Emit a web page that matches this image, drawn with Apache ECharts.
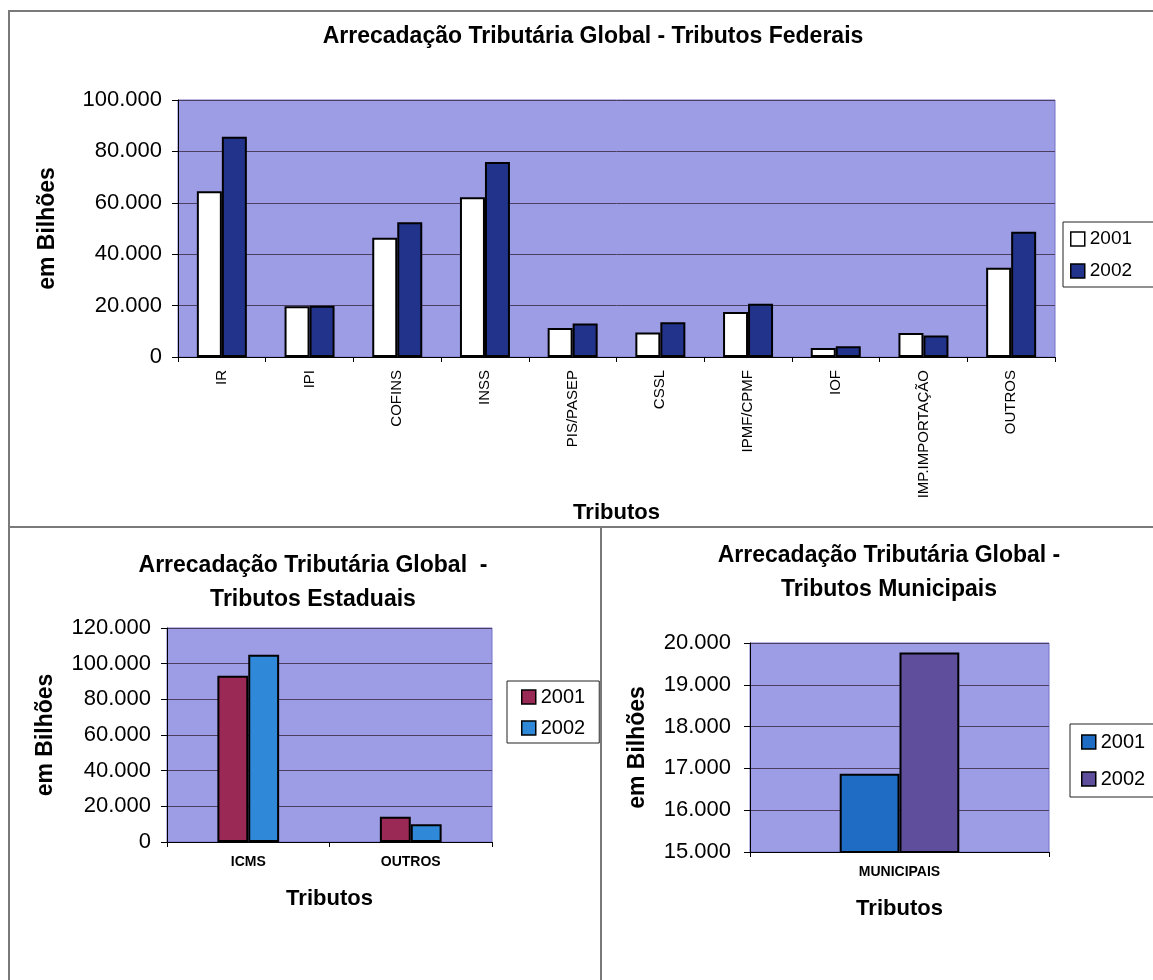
<!DOCTYPE html>
<html>
<head>
<meta charset="utf-8">
<script src="https://cdn.jsdelivr.net/npm/echarts@6/dist/echarts.min.js"></script>
<style>
  html, body { margin: 0; padding: 0; background: #ffffff; width: 1153px; height: 980px; overflow: hidden; }
  .frame { position: absolute; border: 2px solid #7a7a7a; box-sizing: border-box; }
  .chart { position: absolute; }
</style>
</head>
<body>
<div class="frame" style="left:8px; top:10px; width:1160px; height:518px;"></div>
<div class="frame" style="left:8px; top:526px; width:594px; height:470px;"></div>
<div class="frame" style="left:600px; top:526px; width:570px; height:470px;"></div>
<div id="top" class="chart" style="left:0; top:0; width:1153px; height:527px;"></div>
<div id="bl" class="chart" style="left:0; top:527px; width:600px; height:453px;"></div>
<div id="br" class="chart" style="left:600px; top:527px; width:553px; height:453px;"></div>
<script>
// ---------- data ----------
const seriesNames = ['2001', '2002'];

const fedCategories = ['IR', 'IPI', 'COFINS', 'INSS', 'PIS/PASEP', 'CSSL', 'IPMF/CPMF', 'IOF', 'IMP.IMPORTAÇÃO', 'OUTROS'];
const fed2001 = [64500, 19700, 46400, 62200, 11300, 9500, 17500, 3500, 9300, 34700];
const fed2002 = [85700, 19900, 52400, 75900, 13000, 13500, 20700, 4200, 8400, 48700];

const estCategories = ['ICMS', 'OUTROS'];
const est2001 = [93200, 14100];
const est2002 = [105000, 10000];

const munCategories = ['MUNICIPAIS'];
const mun2001 = [16870];
const mun2002 = [19770];

const fedTitle = 'Arrecadação Tributária Global - Tributos Federais';
const estTitle = 'Arrecadação Tributária Global  -\nTributos Estaduais';
const munTitle = 'Arrecadação Tributária Global -\nTributos Municipais';
const yName = 'em Bilhões';
const xName = 'Tributos';

// ---------- helpers ----------
const FONT = "'Liberation Sans', Arial, sans-serif";
function fmt(v) {
  return String(Math.round(v)).replace(/\B(?=(\d{3})+(?!\d))/g, '.');
}
const PLOT_BG = '#9d9de6';
const GRID_LINE = '#4c3f63';

function makeOption(cfg) {
  return {
    animation: false,
    textStyle: { fontFamily: FONT },
    title: {
      text: cfg.title,
      left: cfg.titleX,
      top: cfg.titleTop,
      textAlign: 'center',
      textStyle: { fontFamily: FONT, fontWeight: 'bold', fontSize: cfg.titleSize, color: '#000', lineHeight: cfg.titleLH }
    },
    legend: {
      orient: 'vertical',
      left: cfg.legend.left,
      top: cfg.legend.top,
      padding: cfg.legend.padding,
      itemGap: cfg.legend.gap,
      itemWidth: 14,
      itemHeight: 14,
      icon: 'rect',
      backgroundColor: '#fff',
      borderColor: '#222',
      borderWidth: 1,
      borderRadius: 0,
      data: seriesNames,
      itemStyle: { borderColor: '#000', borderWidth: 1.5 },
      textStyle: { fontFamily: FONT, fontSize: cfg.legend.fontSize, color: '#000', lineHeight: 20 }
    },
    grid: {
      left: cfg.grid.left, top: cfg.grid.top, width: cfg.grid.width, height: cfg.grid.height,
      show: true, backgroundColor: PLOT_BG, borderColor: '#7373c8', borderWidth: 1,
      containLabel: false
    },
    xAxis: {
      type: 'category',
      data: cfg.categories,
      name: xName,
      nameLocation: 'middle',
      nameGap: cfg.xNameGap,
      nameTextStyle: { fontFamily: FONT, fontWeight: 'bold', fontSize: 22, color: '#000' },
      axisLine: { lineStyle: { color: '#000', width: 1 } },
      axisTick: { show: true, length: 5, lineStyle: { color: '#000' } },
      axisLabel: {
        interval: 0,
        rotate: cfg.xRotate,
        margin: cfg.xLabelMargin,
        fontFamily: FONT,
        fontSize: cfg.xLabelSize,
        fontWeight: cfg.xLabelWeight,
        color: '#000'
      },
      splitLine: { show: false }
    },
    yAxis: {
      type: 'value',
      min: cfg.yMin, max: cfg.yMax, interval: cfg.yInterval,
      name: yName,
      nameLocation: 'middle',
      nameGap: cfg.yNameGap,
      nameTextStyle: { fontFamily: FONT, fontWeight: 'bold', fontSize: 23, color: '#000' },
      axisLine: { show: true, lineStyle: { color: '#000', width: 1 } },
      axisTick: { show: true, length: 6, lineStyle: { color: '#000' } },
      axisLabel: { margin: cfg.yLabelMargin, fontFamily: FONT, fontSize: 22, color: '#000', formatter: fmt },
      splitLine: { show: true, lineStyle: { color: GRID_LINE, width: 1 } }
    },
    series: [
      {
        name: seriesNames[0], type: 'bar', data: cfg.s1, barWidth: cfg.barWidth, barGap: '0%',
        itemStyle: { color: cfg.colors[0], borderColor: '#000', borderWidth: 2 }
      },
      {
        name: seriesNames[1], type: 'bar', data: cfg.s2, barWidth: cfg.barWidth, barGap: '0%',
        itemStyle: { color: cfg.colors[1], borderColor: '#000', borderWidth: 2 }
      }
    ]
  };
}

const topChart = echarts.init(document.getElementById('top'), null, { renderer: 'canvas' });
topChart.setOption(makeOption({
  title: fedTitle, titleX: 588, titleTop: 19, titleSize: 23, titleLH: 26,
  legend: { left: 1063, top: 222, padding: [7, 40, 6, 7], gap: 12, fontSize: 19 },
  grid: { left: 178, top: 100, width: 877, height: 257 },
  categories: fedCategories,
  xNameGap: 137, xRotate: 90, xLabelMargin: 13, xLabelSize: 15, xLabelWeight: 'normal',
  yMin: 0, yMax: 100000, yInterval: 20000, yNameGap: 119, yLabelMargin: 16,
  s1: fed2001, s2: fed2002, barWidth: '28.5%', colors: ['#ffffff', '#22338c']
}));

const blChart = echarts.init(document.getElementById('bl'), null, { renderer: 'canvas' });
blChart.setOption(makeOption({
  title: estTitle, titleX: 308, titleTop: 17, titleSize: 23, titleLH: 34,
  legend: { left: 507, top: 154, padding: [6, 14, 5, 14], gap: 11, fontSize: 20 },
  grid: { left: 167, top: 101, width: 325, height: 214 },
  categories: estCategories,
  xNameGap: 46, xRotate: 0, xLabelMargin: 13, xLabelSize: 14, xLabelWeight: 'bold',
  yMin: 0, yMax: 120000, yInterval: 20000, yNameGap: 110, yLabelMargin: 16,
  s1: est2001, s2: est2002, barWidth: '19%', colors: ['#9b2955', '#2f88d8']
}));

const brChart = echarts.init(document.getElementById('br'), null, { renderer: 'canvas' });
brChart.setOption(makeOption({
  title: munTitle, titleX: 284, titleTop: 7, titleSize: 23, titleLH: 34,
  legend: { left: 470, top: 197, padding: [8, 40, 8, 11], gap: 17, fontSize: 20 },
  grid: { left: 150, top: 116, width: 299, height: 209 },
  categories: munCategories,
  xNameGap: 46, xRotate: 0, xLabelMargin: 13, xLabelSize: 14, xLabelWeight: 'bold',
  yMin: 15000, yMax: 20000, yInterval: 1000, yNameGap: 101, yLabelMargin: 19,
  s1: mun2001, s2: mun2002, barWidth: '20%', colors: ['#1e6cc3', '#5f4e9c']
}));
</script>
</body>
</html>
